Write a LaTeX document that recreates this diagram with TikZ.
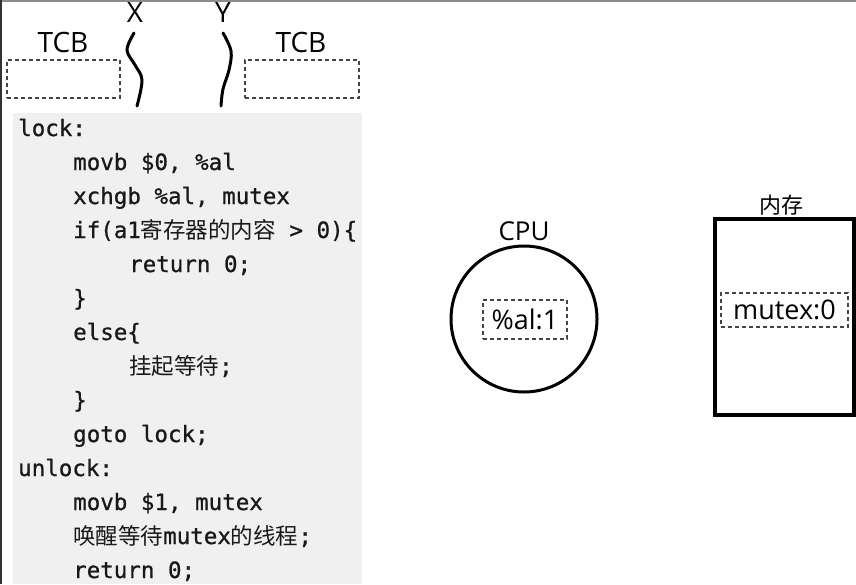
\documentclass[tikz,border=0pt]{standalone}
\usepackage{fontspec}
\setmainfont{Open Sans}
\setmonofont[FakeBold=0.8]{DejaVu Sans Mono}
\newfontfamily\cjk{Noto Sans CJK SC}
\definecolor{codebg}{HTML}{F0F0F0}
\definecolor{dashgray}{HTML}{444444}
\tikzset{
  lbl/.style={inner sep=0pt, font=\fontsize{28}{30}\selectfont},
  tcbbox/.style={draw=dashgray, line width=1.2pt, dash pattern=on 4pt off 3pt, inner sep=0pt},
  code/.style={anchor=base west, inner sep=0pt, text=black!90, font=\fontsize{22.5}{26}\selectfont\ttfamily},
  thread/.style={line width=3pt, line cap=round},
}
\begin{document}
\begin{tikzpicture}[x=1pt,y=-1pt]
\useasboundingbox (0,0) rectangle (856,584);
\fill[white] (0,0) rectangle (856,584);
% screenshot borders
\draw[color=black!45, line width=2pt] (0,1) -- (856,1);
\draw[color=black!80, line width=2.5pt] (1,0) -- (1,584);
% code background
\fill[codebg] (13,113) rectangle (362,584);
% TCB boxes and labels
\node[tcbbox, minimum width=113pt, minimum height=38pt] (tcbL) at (63.5,79) {};
\node[tcbbox, minimum width=114pt, minimum height=38pt] (tcbR) at (302,79) {};
\node[lbl] (tcbLlbl) at (63,42) {TCB};
\node[lbl] (tcbRlbl) at (301,42) {TCB};
% threads
\node[lbl] (xl) at (135,13) {X};
\node[lbl] (yl) at (223,13) {Y};
\draw[thread] plot[smooth, tension=0.6] coordinates {(134,33) (127,50) (135,65) (142,80) (137,106)};
\draw[thread] plot[smooth, tension=0.6] coordinates {(223,33) (231,51) (229,70) (223,89) (221,106)};
% code
\node[code] (c1) at (18,136) {lock:};
\node[code] (c2) at (73,170) {movb \$0, \%al};
\node[code] (c3) at (73,204) {xchgb \%al, mutex};
\node[code] (c4) at (73,238) {if(a1{\cjk 寄存器的内容} > 0)\{};
\node[code] (c5) at (129,272) {return 0;};
\node[code] (c6) at (73,306) {\}};
\node[code] (c7) at (73,340) {else\{};
\node[code] (c8) at (129,374) {{\cjk 挂起等待};};
\node[code] (c9) at (73,408) {\}};
\node[code] (c10) at (73,442) {goto lock;};
\node[code] (c11) at (18,476) {unlock:};
\node[code] (c12) at (73,510) {movb \$1, mutex};
\node[code] (c13) at (73,544) {{\cjk 唤醒等待}mutex{\cjk 的线程};};
\node[code] (c14) at (73,578) {return 0;};
% CPU
\node[draw, circle, line width=3pt, minimum size=146pt, inner sep=0pt] (cpu) at (524,319) {};
\node[lbl, font=\fontsize{26}{28}\selectfont] (cpulbl) at (524,231) {CPU};
\node[tcbbox, minimum width=84pt, minimum height=39pt, font=\fontsize{27}{29}\selectfont] (al) at (525,319.5) {\%al:1};
% memory
\node[draw, line width=3.5pt, minimum width=139pt, minimum height=196pt, inner sep=0pt] (mem) at (784.5,317) {};
\node[inner sep=0pt, font=\cjk\fontsize{22}{24}\selectfont] (memlbl) at (781,205) {内存};
\node[tcbbox, minimum width=127pt, minimum height=34pt, font=\fontsize{27}{29}\selectfont] (mutex) at (784.5,310) {mutex:0};
\end{tikzpicture}
\end{document}
